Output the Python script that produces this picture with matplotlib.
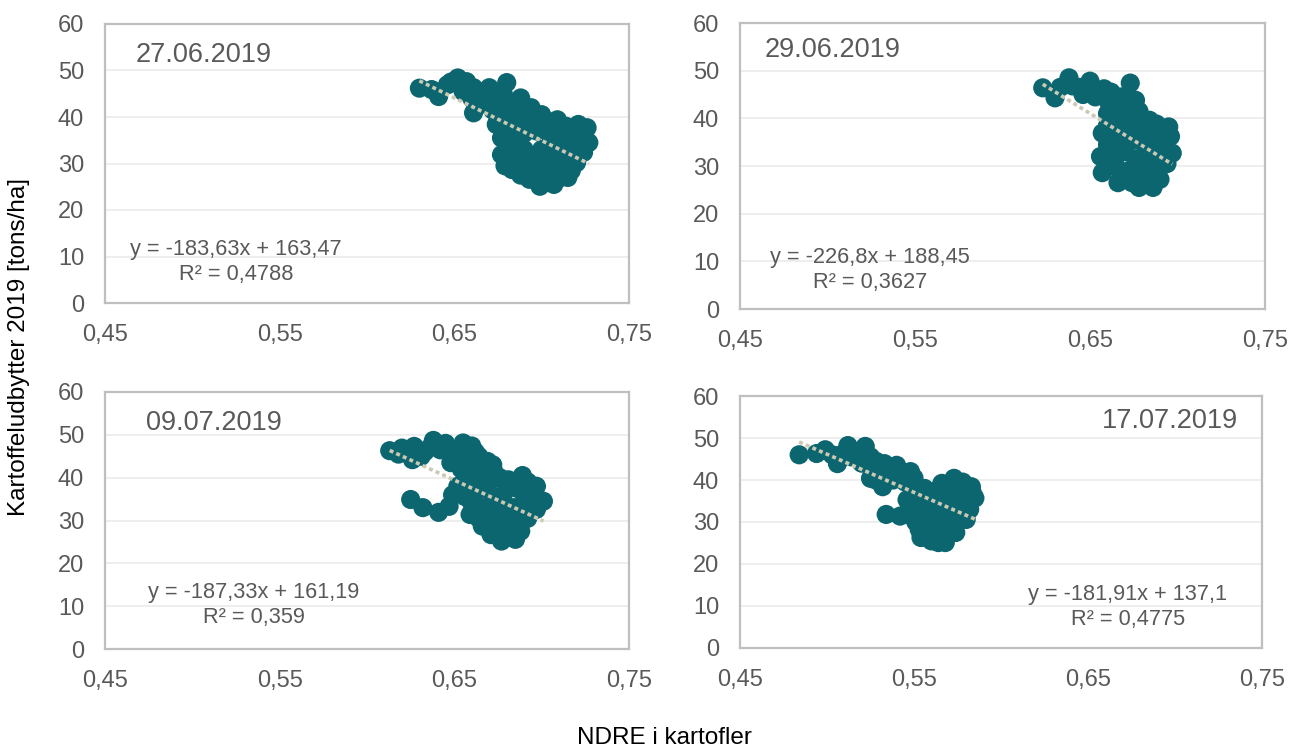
import matplotlib
matplotlib.use("Agg")
import matplotlib.pyplot as plt
from matplotlib.ticker import FixedLocator, FuncFormatter

plt.rcParams["font.family"] = ["Liberation Sans", "DejaVu Sans"]

# ---- data: NDRE (x) vs yield t/ha (y) ----
x_2706 = [0.630, 0.637, 0.641, 0.646, 0.652, 0.657, 0.661, 0.655, 0.665, 0.670,
          0.680, 0.668, 0.676, 0.661, 0.672, 0.688, 0.681, 0.694, 0.700, 0.709,
          0.721, 0.726, 0.727, 0.674, 0.677, 0.677, 0.683, 0.693, 0.699, 0.707,
          0.715, 0.720, 0.724, 0.685, 0.690, 0.684, 0.688, 0.695, 0.700, 0.697,
          0.705, 0.703, 0.710, 0.712, 0.716, 0.718, 0.705, 0.692, 0.682, 0.690,
          0.696, 0.648, 0.660, 0.664, 0.671, 0.678, 0.675, 0.680, 0.686, 0.693,
          0.698, 0.704, 0.710, 0.714, 0.722, 0.720, 0.714, 0.708, 0.700, 0.694,
          0.686, 0.680, 0.679, 0.711, 0.717, 0.688, 0.703]
y_2706 = [46.2, 45.9, 44.4, 46.9, 48.4, 47.6, 46.3, 45.5, 45.0, 46.3,
          47.4, 43.7, 43.1, 40.9, 41.5, 44.1, 42.2, 42.0, 40.5, 39.4,
          38.4, 37.7, 34.5, 38.4, 35.5, 31.9, 28.7, 26.6, 25.1, 25.5,
          27.0, 30.2, 32.4, 39.0, 36.5, 34.0, 31.5, 29.0, 33.0, 37.0,
          36.0, 30.5, 33.5, 29.0, 36.5, 33.0, 27.5, 39.5, 37.0, 33.0,
          31.0, 47.5, 44.0, 42.5, 44.5, 45.0, 40.0, 40.0, 41.5, 40.0,
          38.5, 39.0, 37.0, 38.0, 35.5, 33.0, 31.0, 31.5, 28.0, 27.5,
          30.0, 33.0, 29.5, 27.0, 28.5, 27.5, 26.0]

x_2906 = [0.623, 0.630, 0.638, 0.633, 0.644, 0.650, 0.646, 0.658, 0.653, 0.673,
          0.676, 0.661, 0.667, 0.660, 0.665, 0.670, 0.674, 0.684, 0.657, 0.656,
          0.657, 0.666, 0.678, 0.686, 0.690, 0.697, 0.696, 0.695, 0.690, 0.662,
          0.668, 0.664, 0.670, 0.672, 0.676, 0.680, 0.684, 0.678, 0.688, 0.692,
          0.682, 0.686, 0.660, 0.640, 0.648, 0.655, 0.662, 0.668, 0.672, 0.664,
          0.678, 0.680, 0.688, 0.692, 0.694, 0.690, 0.686, 0.674, 0.660, 0.662,
          0.668, 0.674, 0.682, 0.676, 0.682, 0.666, 0.670, 0.688]
y_2906 = [46.4, 44.3, 48.5, 46.5, 46.5, 47.8, 45.0, 46.2, 44.5, 47.4,
          43.8, 43.1, 42.0, 41.0, 39.0, 40.5, 41.0, 39.6, 36.9, 32.0,
          28.6, 26.5, 25.5, 25.5, 27.2, 32.7, 36.2, 38.2, 37.5, 35.0,
          37.0, 31.0, 33.0, 29.0, 35.5, 31.0, 34.0, 28.0, 30.0, 34.5,
          37.5, 28.5, 38.5, 46.8, 46.0, 45.0, 45.5, 44.5, 43.0, 41.5,
          41.5, 39.0, 38.8, 36.5, 30.5, 32.5, 36.0, 37.5, 34.5, 30.0,
          28.0, 26.5, 26.5, 31.5, 33.0, 33.5, 35.5, 33.5]

x_0907 = [0.613, 0.620, 0.627, 0.626, 0.633, 0.638, 0.642, 0.647, 0.652, 0.655,
          0.660, 0.658, 0.664, 0.625, 0.632, 0.641, 0.647, 0.649, 0.669, 0.673,
          0.681, 0.689, 0.697, 0.701, 0.697, 0.688, 0.685, 0.677, 0.671, 0.666,
          0.659, 0.656, 0.660, 0.665, 0.654, 0.648, 0.663, 0.668, 0.672, 0.676,
          0.680, 0.678, 0.684, 0.690, 0.693, 0.674, 0.670, 0.686, 0.680, 0.662,
          0.618, 0.631, 0.636, 0.645, 0.650, 0.662, 0.656, 0.662, 0.667, 0.672,
          0.676, 0.684, 0.692, 0.696, 0.692, 0.688, 0.682, 0.676, 0.670, 0.660,
          0.664, 0.652, 0.658, 0.682, 0.690]
y_0907 = [46.3, 46.9, 47.3, 44.2, 46.0, 48.7, 46.5, 46.9, 45.0, 48.1,
          47.4, 44.0, 45.0, 34.9, 33.0, 31.9, 33.3, 36.0, 43.8, 41.1,
          39.5, 40.5, 38.0, 34.5, 32.6, 29.8, 25.6, 25.2, 26.7, 28.7,
          31.4, 35.6, 40.0, 38.0, 42.0, 43.5, 33.5, 31.0, 35.5, 32.5,
          29.0, 36.0, 33.0, 36.0, 33.0, 29.0, 39.0, 37.5, 26.5, 36.5,
          45.5, 45.0, 47.0, 48.0, 46.5, 46.0, 43.0, 42.0, 41.5, 43.0,
          40.0, 38.5, 39.0, 35.5, 30.5, 27.5, 31.0, 27.5, 33.0, 34.0,
          30.5, 38.0, 38.5, 27.5, 33.5]

x_1707 = [0.484, 0.494, 0.499, 0.506, 0.512, 0.508, 0.517, 0.522, 0.525, 0.520,
          0.525, 0.530, 0.533, 0.540, 0.532, 0.548, 0.538, 0.545, 0.534, 0.545,
          0.553, 0.554, 0.564, 0.568, 0.573, 0.580, 0.585, 0.583, 0.573, 0.566,
          0.561, 0.546, 0.542, 0.550, 0.556, 0.560, 0.565, 0.562, 0.568, 0.572,
          0.576, 0.578, 0.570, 0.558, 0.552, 0.575, 0.582, 0.503, 0.514, 0.519,
          0.528, 0.536, 0.543, 0.528, 0.550, 0.556, 0.553, 0.558, 0.562, 0.570,
          0.578, 0.584, 0.580, 0.578, 0.574, 0.566, 0.560, 0.556, 0.565, 0.570,
          0.548, 0.551]
y_1707 = [46.0, 46.3, 47.2, 43.9, 48.2, 46.0, 46.5, 48.0, 45.5, 44.0,
          40.4, 42.5, 43.9, 43.5, 38.4, 42.0, 40.0, 39.5, 31.8, 31.8,
          28.2, 26.3, 25.1, 25.1, 28.2, 30.6, 35.7, 38.4, 40.4, 39.2,
          37.2, 35.3, 31.4, 34.0, 31.5, 34.5, 36.5, 29.0, 32.0, 35.0,
          33.5, 37.5, 29.0, 27.5, 37.5, 30.5, 33.0, 46.0, 45.5, 47.0,
          44.5, 42.0, 42.0, 40.0, 40.5, 38.0, 36.0, 32.5, 37.0, 38.0,
          39.5, 36.5, 34.5, 32.0, 27.5, 27.0, 25.5, 30.0, 31.0, 34.0,
          33.0, 30.0]

dates = ["27.06.2019", "29.06.2019", "09.07.2019", "17.07.2019"]
slopes = [-183.63, -226.8, -187.33, -181.91]
intercepts = [163.47, 188.45, 161.19, 137.1]
eq_labels = ["y = -183,63x + 163,47\nR² = 0,4788",
             "y = -226,8x + 188,45\nR² = 0,3627",
             "y = -187,33x + 161,19\nR² = 0,359",
             "y = -181,91x + 137,1\nR² = 0,4775"]
xs = [x_2706, x_2906, x_0907, x_1707]
ys = [y_2706, y_2906, y_0907, y_1707]

x_ticks = [0.45, 0.55, 0.65, 0.75]
y_ticks = [0, 10, 20, 30, 40, 50, 60]

W, H = 1295, 751
DOT = "#0b6670"
TREND = "#cbc8b3"
GREY = "#595959"

# axes boxes in pixels: left, top, right, bottom
boxes = [(105, 24, 629, 303), (740, 23, 1265, 309),
         (105, 392, 629, 649), (740, 396, 1262, 648)]
# date label (x, y, ha) and equation centre (x, y) in pixels
date_pos = [(136, 55, "left"), (765, 50, "left"), (146, 423, "left"), (1238, 421, "right")]
eq_pos = [(236, 262), (870, 270), (254, 605), (1128, 607)]

fig = plt.figure(figsize=(W / 100, H / 100), dpi=100)

for i in range(4):
    l, t, r, b = boxes[i]
    ax = fig.add_axes([l / W, 1 - b / H, (r - l) / W, (b - t) / H])
    ax.scatter(xs[i], ys[i], s=190, color=DOT, edgecolors="none", zorder=2)
    x0, x1 = min(xs[i]), max(xs[i])
    ax.plot([x0, x1], [slopes[i] * x0 + intercepts[i], slopes[i] * x1 + intercepts[i]],
            color=TREND, lw=2.6, ls=(0, (1.1, 0.9)), solid_capstyle="butt", zorder=3)
    ax.set_xlim(0.45, 0.75)
    ax.set_ylim(0, 60)
    ax.xaxis.set_major_locator(FixedLocator(x_ticks))
    ax.yaxis.set_major_locator(FixedLocator(y_ticks))
    ax.xaxis.set_major_formatter(FuncFormatter(lambda v, p: f"{v:.2f}".replace(".", ",")))
    ax.yaxis.set_major_formatter(FuncFormatter(lambda v, p: f"{v:.0f}"))
    ax.tick_params(length=0, labelsize=17, colors=GREY, pad=15)
    ax.yaxis.grid(True, color="#ededed", lw=1.3)
    ax.set_axisbelow(True)
    for sp in ax.spines.values():
        sp.set_color("#bfbfbf")
        sp.set_linewidth(1.6)
    dx, dy, ha = date_pos[i]
    fig.text(dx / W, 1 - dy / H, dates[i], fontsize=19.5, color=GREY, ha=ha, va="center")
    ex, ey = eq_pos[i]
    fig.text(ex / W, 1 - ey / H, eq_labels[i], fontsize=15.7, color=GREY,
             ha="center", va="center", multialignment="center", linespacing=1.3)

fig.text(19 / W, 1 - 347 / H, "Kartoffeludbytter 2019 [tons/ha]", fontsize=17.5,
         rotation=90, ha="center", va="center", color="black")
fig.text(664 / W, 1 - 738 / H, "NDRE i kartofler", fontsize=17.5,
         ha="center", va="center", color="black")

fig.savefig("out.png", dpi=100)
